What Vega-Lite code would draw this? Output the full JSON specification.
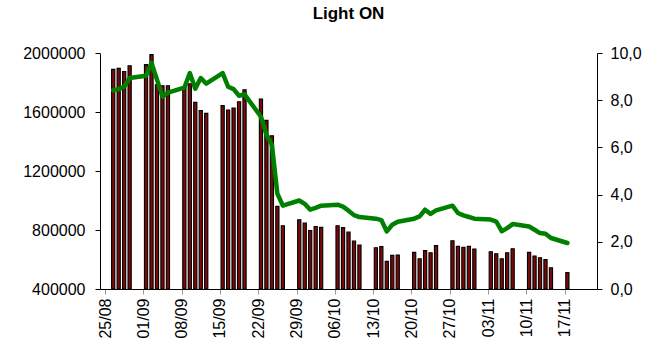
{
  "$schema": "https://vega.github.io/schema/vega-lite/v6.json",
  "autosize": {"type": "none"},
  "width": 497,
  "height": 236,
  "padding": {"left": 100, "top": 53, "right": 53, "bottom": 56},
  "background": "white",
  "title": {"text": "Light ON", "fontSize": 17, "font": "Liberation Sans", "fontWeight": "bold", "color": "black", "offset": 22, "anchor": "middle"},
  "config": {
    "view": {"stroke": null},
    "axis": {"labelFont": "Liberation Sans", "labelFontSize": 16, "labelColor": "black", "domainColor": "black", "tickColor": "black", "grid": false, "title": null, "tickSize": 5}
  },
  "data": {"values": [
    {"date": "2008-08-26T12:00:00", "count": 1889000, "ratio": 8.42},
    {"date": "2008-08-27T12:00:00", "count": 1896000, "ratio": 8.47},
    {"date": "2008-08-28T12:00:00", "count": 1875000, "ratio": 8.57},
    {"date": "2008-08-29T12:00:00", "count": 1914000, "ratio": 8.94},
    {"date": "2008-09-01T12:00:00", "count": 1921000, "ratio": 9.04},
    {"date": "2008-09-02T12:00:00", "count": 1989000, "ratio": 9.58},
    {"date": "2008-09-03T12:00:00", "count": 1785000, "ratio": 8.87},
    {"date": "2008-09-04T12:00:00", "count": 1778000, "ratio": 8.15},
    {"date": "2008-09-05T12:00:00", "count": 1778000, "ratio": 8.32},
    {"date": "2008-09-08T12:00:00", "count": 1772000, "ratio": 8.53},
    {"date": "2008-09-09T12:00:00", "count": 1792000, "ratio": 9.15},
    {"date": "2008-09-10T12:00:00", "count": 1665000, "ratio": 8.49},
    {"date": "2008-09-11T12:00:00", "count": 1609000, "ratio": 8.94},
    {"date": "2008-09-12T12:00:00", "count": 1591000, "ratio": 8.70},
    {"date": "2008-09-15T12:00:00", "count": 1643000, "ratio": 9.15},
    {"date": "2008-09-16T12:00:00", "count": 1614000, "ratio": 8.57},
    {"date": "2008-09-17T12:00:00", "count": 1627000, "ratio": 8.47},
    {"date": "2008-09-18T12:00:00", "count": 1670000, "ratio": 8.19},
    {"date": "2008-09-19T12:00:00", "count": 1751000, "ratio": 8.25},
    {"date": "2008-09-22T12:00:00", "count": 1688000, "ratio": 7.30},
    {"date": "2008-09-23T12:00:00", "count": 1543000, "ratio": 6.54},
    {"date": "2008-09-24T12:00:00", "count": 1439000, "ratio": 6.11},
    {"date": "2008-09-25T12:00:00", "count": 960000, "ratio": 4.04},
    {"date": "2008-09-26T12:00:00", "count": 829000, "ratio": 3.53},
    {"date": "2008-09-29T12:00:00", "count": 870000, "ratio": 3.75},
    {"date": "2008-09-30T12:00:00", "count": 847000, "ratio": 3.61},
    {"date": "2008-10-01T12:00:00", "count": 797000, "ratio": 3.36},
    {"date": "2008-10-02T12:00:00", "count": 824000, "ratio": 3.44},
    {"date": "2008-10-03T12:00:00", "count": 818000, "ratio": 3.53},
    {"date": "2008-10-06T12:00:00", "count": 829000, "ratio": 3.57},
    {"date": "2008-10-07T12:00:00", "count": 816000, "ratio": 3.49},
    {"date": "2008-10-08T12:00:00", "count": 786000, "ratio": 3.32},
    {"date": "2008-10-09T12:00:00", "count": 725000, "ratio": 3.13},
    {"date": "2008-10-10T12:00:00", "count": 698000, "ratio": 3.05},
    {"date": "2008-10-13T12:00:00", "count": 680000, "ratio": 2.98},
    {"date": "2008-10-14T12:00:00", "count": 687000, "ratio": 2.92},
    {"date": "2008-10-15T12:00:00", "count": 587000, "ratio": 2.44},
    {"date": "2008-10-16T12:00:00", "count": 628000, "ratio": 2.72},
    {"date": "2008-10-17T12:00:00", "count": 631000, "ratio": 2.85},
    {"date": "2008-10-20T12:00:00", "count": 648000, "ratio": 2.98},
    {"date": "2008-10-21T12:00:00", "count": 605000, "ratio": 3.08},
    {"date": "2008-10-22T12:00:00", "count": 660000, "ratio": 3.36},
    {"date": "2008-10-23T12:00:00", "count": 646000, "ratio": 3.18},
    {"date": "2008-10-24T12:00:00", "count": 694000, "ratio": 3.33},
    {"date": "2008-10-27T12:00:00", "count": 727000, "ratio": 3.53},
    {"date": "2008-10-28T12:00:00", "count": 689000, "ratio": 3.22},
    {"date": "2008-10-29T12:00:00", "count": 682000, "ratio": 3.12},
    {"date": "2008-10-30T12:00:00", "count": 689000, "ratio": 3.05},
    {"date": "2008-10-31T12:00:00", "count": 671000, "ratio": 2.98},
    {"date": "2008-11-03T12:00:00", "count": 653000, "ratio": 2.94},
    {"date": "2008-11-04T12:00:00", "count": 639000, "ratio": 2.86},
    {"date": "2008-11-05T12:00:00", "count": 605000, "ratio": 2.45},
    {"date": "2008-11-06T12:00:00", "count": 646000, "ratio": 2.58},
    {"date": "2008-11-07T12:00:00", "count": 673000, "ratio": 2.75},
    {"date": "2008-11-10T12:00:00", "count": 648000, "ratio": 2.65},
    {"date": "2008-11-11T12:00:00", "count": 624000, "ratio": 2.51},
    {"date": "2008-11-12T12:00:00", "count": 612000, "ratio": 2.37},
    {"date": "2008-11-13T12:00:00", "count": 599000, "ratio": 2.34},
    {"date": "2008-11-14T12:00:00", "count": 544000, "ratio": 2.16},
    {"date": "2008-11-17T12:00:00", "count": 511000, "ratio": 1.95}
  ]},
  "encoding": {
    "x": {
      "field": "date", "type": "temporal",
      "scale": {"domain": [{"year": 2008, "month": 8, "date": 25}, {"year": 2008, "month": 11, "date": 22}]},
      "axis": {
        "values": [
          {"year": 2008, "month": 8, "date": 25},
          {"year": 2008, "month": 9, "date": 1},
          {"year": 2008, "month": 9, "date": 8},
          {"year": 2008, "month": 9, "date": 15},
          {"year": 2008, "month": 9, "date": 22},
          {"year": 2008, "month": 9, "date": 29},
          {"year": 2008, "month": 10, "date": 6},
          {"year": 2008, "month": 10, "date": 13},
          {"year": 2008, "month": 10, "date": 20},
          {"year": 2008, "month": 10, "date": 27},
          {"year": 2008, "month": 11, "date": 3},
          {"year": 2008, "month": 11, "date": 10},
          {"year": 2008, "month": 11, "date": 17}
        ],
        "format": "%d/%m", "labelAngle": 270, "labelAlign": "right", "labelBaseline": "middle",
        "labelPadding": 4, "tickColor": "#999999", "labelOverlap": false, "labelFlush": false
      }
    }
  },
  "layer": [
    {
      "mark": {"type": "bar", "width": 3.2, "fill": "#7a0a0a", "stroke": "#000000", "strokeWidth": 1.1, "clip": true},
      "encoding": {
        "y": {
          "field": "count", "type": "quantitative",
          "scale": {"domain": [400000, 2000000], "zero": false, "nice": false},
          "axis": {"values": [400000, 800000, 1200000, 1600000, 2000000], "format": "d", "labelPadding": 10}
        },
        "y2": {"datum": 400000}
      }
    },
    {
      "mark": {"type": "line", "color": "#008000", "strokeWidth": 4.5, "strokeJoin": "round", "strokeCap": "round"},
      "encoding": {
        "y": {
          "field": "ratio", "type": "quantitative",
          "scale": {"domain": [0, 10], "nice": false},
          "axis": {"orient": "right", "values": [0, 2, 4, 6, 8, 10], "labelExpr": "replace(format(datum.value, '.1f'), '.', ',')", "labelPadding": 8}
        }
      }
    }
  ],
  "resolve": {"scale": {"y": "independent"}}
}
